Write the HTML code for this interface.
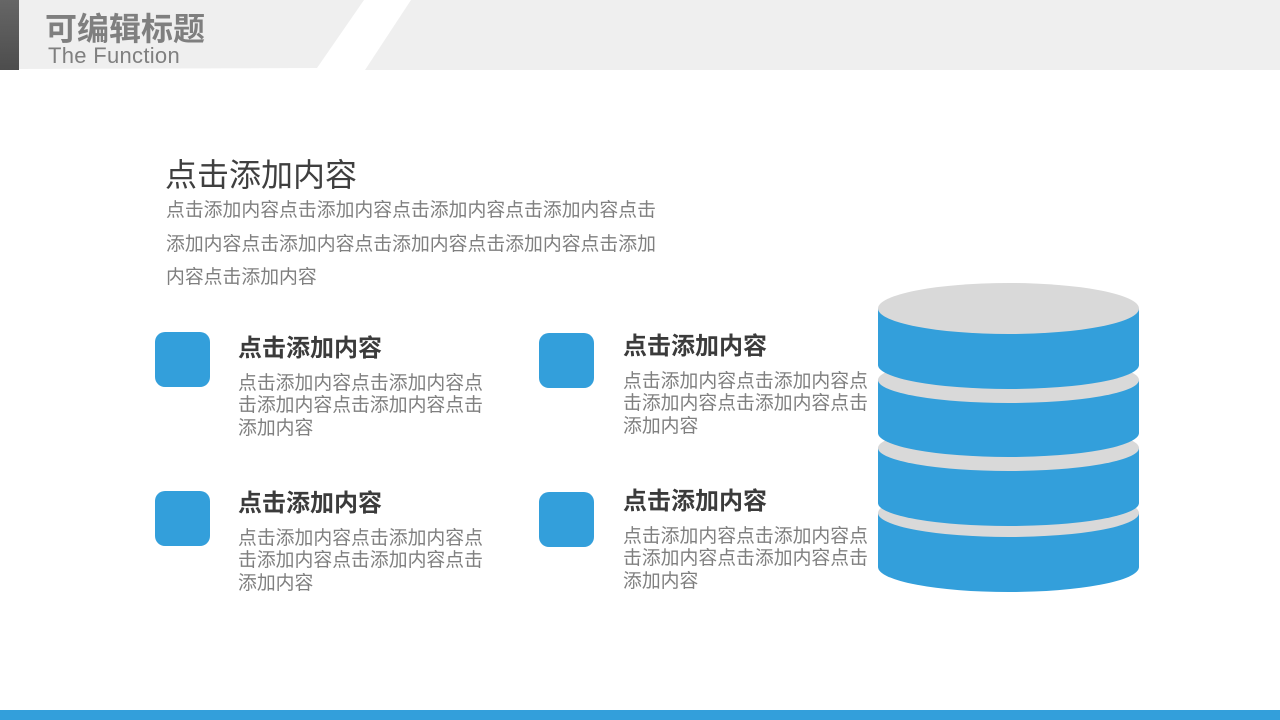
<!DOCTYPE html>
<html><head><meta charset="utf-8">
<style>
html,body{margin:0;padding:0;background:#fff}
#p{position:relative;width:1280px;height:720px;overflow:hidden;background:#fff;font-family:"Liberation Sans","Noto Sans CJK SC",sans-serif}
.t{position:absolute;white-space:nowrap;margin:0}
.h{font-size:24px;font-weight:700;color:#3b3b3b;line-height:30px;height:30px}
.b{font-size:18.85px;color:#7f7f7f;line-height:23px;height:23px}
.l{font-size:18.85px;color:#7f7f7f;line-height:30px;height:30px}
.s{position:absolute;width:55px;height:55px;border-radius:10px;background:#339fdb}
svg{position:absolute;left:0;top:0}
</style></head><body><div id="p">
<svg width="1280" height="720" viewBox="0 0 1280 720">
<defs><linearGradient id="g" x1="0" y1="0" x2="0" y2="1"><stop offset="0" stop-color="#666"/><stop offset="1" stop-color="#4d4d4d"/></linearGradient></defs>
<rect x="0" y="0" width="19" height="70" fill="url(#g)"/>
<polygon points="19,0 364,0 317,68 19,69" fill="#efefef"/>
<polygon points="411,0 1280,0 1280,70 365,70" fill="#efefef"/>
<rect x="0" y="710" width="1280" height="10" fill="#339fdb"/>
<path d="M878 513 V567 A130.5 25 0 0 0 1139 567 V513 Z" fill="#339fdb"/>
<ellipse cx="1008.5" cy="513" rx="130.5" ry="24" fill="#d9d9d9"/>
<path d="M878 448 V503 A130.5 23 0 0 0 1139 503 V448 Z" fill="#339fdb"/>
<ellipse cx="1008.5" cy="448" rx="130.5" ry="23" fill="#d9d9d9"/>
<path d="M878 380 V433 A130.5 24 0 0 0 1139 433 V380 Z" fill="#339fdb"/>
<ellipse cx="1008.5" cy="380" rx="130.5" ry="23" fill="#d9d9d9"/>
<path d="M878 308.500 V365 A130.5 24 0 0 0 1139 365 V308.500 Z" fill="#339fdb"/>
<ellipse cx="1008.5" cy="308.500" rx="130.5" ry="25.500" fill="#d9d9d9"/>
</svg>
<div class="t" style="left:45px;top:10px;font-size:32px;font-weight:700;color:#7f7f7f;line-height:38px">可编辑标题</div>
<div class="t" style="left:48px;top:43px;font-size:22px;color:#7f7f7f;line-height:26px;letter-spacing:.3px">The Function</div>

<div class="t" style="left:165px;top:154px;font-size:32px;color:#3f3f3f;line-height:42px">点击添加内容</div>
<div class="t l" style="left:166px;top:195px">点击添加内容点击添加内容点击添加内容点击添加内容点击</div>
<div class="t l" style="left:166px;top:229px">添加内容点击添加内容点击添加内容点击添加内容点击添加</div>
<div class="t l" style="left:166px;top:262px">内容点击添加内容</div>

<div class="s" style="left:155px;top:332px"></div>
<div class="t h" style="left:238px;top:334px">点击添加内容</div>
<div class="t b" style="left:238px;top:371px">点击添加内容点击添加内容点</div>
<div class="t b" style="left:238px;top:393px">击添加内容点击添加内容点击</div>
<div class="t b" style="left:238px;top:416px">添加内容</div>

<div class="s" style="left:539px;top:333px"></div>
<div class="t h" style="left:623px;top:332px">点击添加内容</div>
<div class="t b" style="left:623px;top:369px">点击添加内容点击添加内容点</div>
<div class="t b" style="left:623px;top:391px">击添加内容点击添加内容点击</div>
<div class="t b" style="left:623px;top:414px">添加内容</div>

<div class="s" style="left:155px;top:491px"></div>
<div class="t h" style="left:238px;top:489px">点击添加内容</div>
<div class="t b" style="left:238px;top:526px">点击添加内容点击添加内容点</div>
<div class="t b" style="left:238px;top:548px">击添加内容点击添加内容点击</div>
<div class="t b" style="left:238px;top:571px">添加内容</div>

<div class="s" style="left:539px;top:492px"></div>
<div class="t h" style="left:623px;top:487px">点击添加内容</div>
<div class="t b" style="left:623px;top:524px">点击添加内容点击添加内容点</div>
<div class="t b" style="left:623px;top:546px">击添加内容点击添加内容点击</div>
<div class="t b" style="left:623px;top:569px">添加内容</div>
</div></body></html>
